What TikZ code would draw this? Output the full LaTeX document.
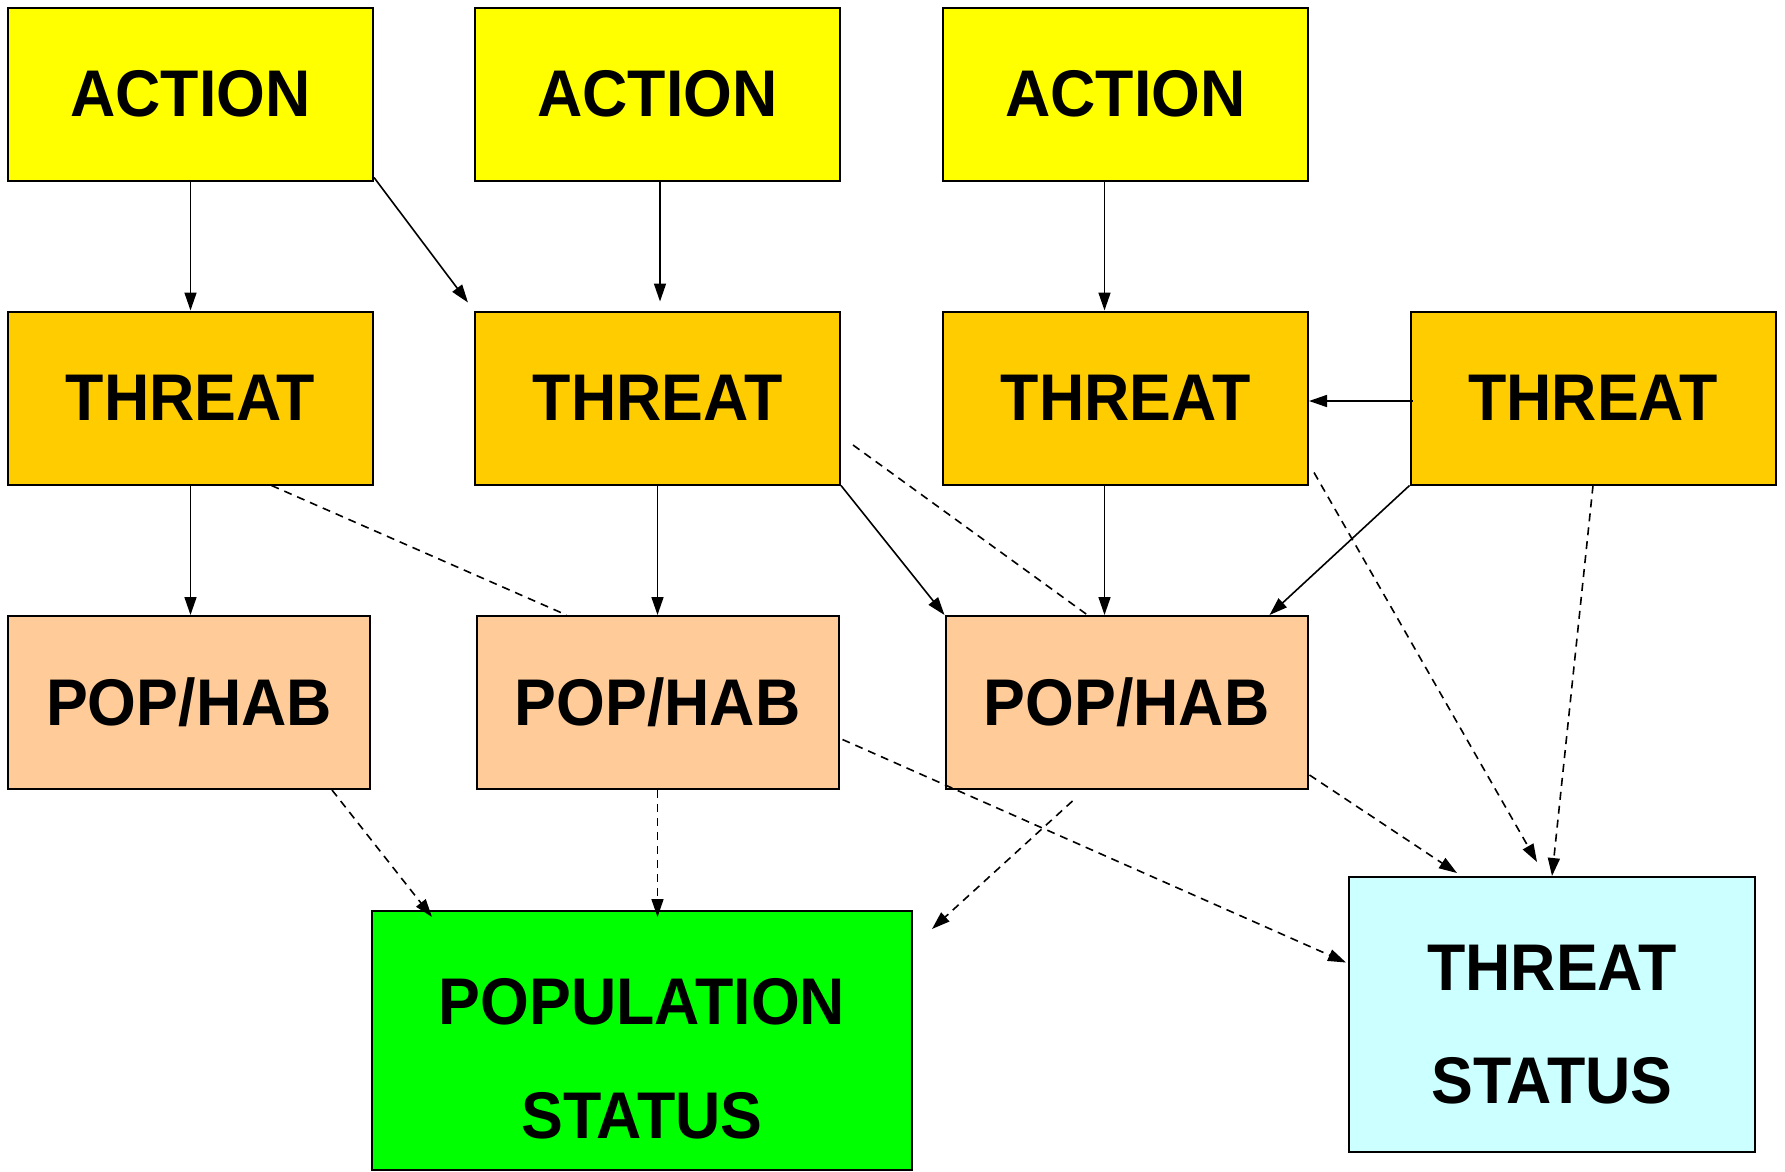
\documentclass[tikz,border=0pt]{standalone}
\usepackage{fontspec}
\setmainfont[FakeStretch=0.95]{Liberation Sans}
\usetikzlibrary{arrows.meta,calc}
\definecolor{cAction}{HTML}{FFFF00}
\definecolor{cThreat}{HTML}{FFCC00}
\definecolor{cPop}{HTML}{FFCC99}
\definecolor{cPS}{HTML}{00FF00}
\definecolor{cTS}{HTML}{CCFFFF}
\begin{document}
\begin{tikzpicture}[x=1pt,y=-1pt,
  box/.style={draw=black,line width=2pt,inner sep=0pt,minimum width=365pt,minimum height=173pt,
    font=\fontsize{66}{78}\selectfont\bfseries},
  actbox/.style={box,fill=cAction},
  thrbox/.style={box,fill=cThreat},
  popbox/.style={box,fill=cPop,minimum width=362pt},
  lbl/.style={inner sep=0pt,font=\fontsize{66}{78}\selectfont\bfseries},
  sarr/.style={-{Triangle[length=18pt,width=12pt]},line width=1.6pt},
  darr/.style={sarr,dash pattern=on 8pt off 6pt},
  dline/.style={line width=1.6pt,dash pattern=on 8pt off 6pt}]
\useasboundingbox[fill=white] (0,0) rectangle (1785,1171);
% row 1
\node[actbox] (a1) at (190.5,94) {ACTION};
\node[actbox] (a2) at (657.5,94) {ACTION};
\node[actbox] (a3) at (1125.5,94) {ACTION};
% row 2
\node[thrbox] (t1) at (190.5,398) {THREAT};
\node[thrbox] (t2) at (657.5,398) {THREAT};
\node[thrbox] (t3) at (1125.5,398) {THREAT};
\node[thrbox] (t4) at (1593,398) {THREAT};
% row 3
\node[popbox] (p1) at (189,702.5) {POP/HAB};
\node[popbox] (p2) at (657.5,702.5) {POP/HAB};
\node[popbox] (p3) at (1126.5,702.5) {POP/HAB};
% status boxes
\node[box,fill=cPS,minimum width=540pt,minimum height=259pt] (ps) at (642,1040.5) {};
\node[lbl] (pst1) at (642,1002) {POPULATION};
\node[lbl] (pst2) at (642,1116) {STATUS};
\node[box,fill=cTS,minimum width=406pt,minimum height=275pt] (ts) at (1552,1014.5) {};
\node[lbl] (tst1) at (1552,968) {THREAT};
\node[lbl] (tst2) at (1552,1081) {STATUS};
% solid connectors
\draw[sarr] (a1.south) -- (t1.north);
\draw[sarr,shorten >=10pt] ($(a1.south east)+(0,-4)$) -- (t2.north west);
\draw[sarr] ($(a2.south)+(2.5,0)$) -- ($(t2.north)+(2.5,-9)$);
\draw[sarr] ($(a3.south)+(-21,0)$) -- ($(t3.north)+(-21,0)$);
\draw[sarr] ($(t4.west)+(3,3)$) -- ($(t3.east)+(0,3)$);
\draw[sarr] (t1.south) -- (t1.south |- p1.north);
\draw[sarr] (t2.south) -- (t2.south |- p2.north);
\draw[sarr] (t2.south east) -- (p3.north west);
\draw[sarr] ($(t3.south)+(-21,0)$) -- ($(t3.south |- p3.north)+(-21,0)$);
\draw[sarr] (t4.south west) -- ($(p3.north east)+(-39,0)$);
% dashed lines without tips
\draw[dline] ($(t1.south)+(81,0)$) -- ($(p2.north)+(-91,0)$);
\draw[dline] ($(t2.east)+(12,47)$) -- ($(p3.north)+(-39,0)$);
% dashed connectors
\draw[darr] ($(t3.south east)+(5,-13)$) -- ($(ts.north)+(-15,-14)$);
\draw[darr] (t4.south) -- (ts.north);
\draw[darr] ($(p3.south east)+(1,-15)$) -- ($(ts.north)+(-95,-3)$);
\draw[darr] ($(p2.east)+(3,37)$) -- ($(ts.west)+(-2,-52)$);
\draw[darr] ($(p3.south)+(-54,11)$) -- ($(ps.north east)+(19,19)$);
\draw[darr] ($(p1.south)+(143,0)$) -- ($(ps.north west)+(61,7)$);
\draw[darr] (p2.south) -- ($(p2.south |- ps.north)+(0,7)$);
\end{tikzpicture}
\end{document}
